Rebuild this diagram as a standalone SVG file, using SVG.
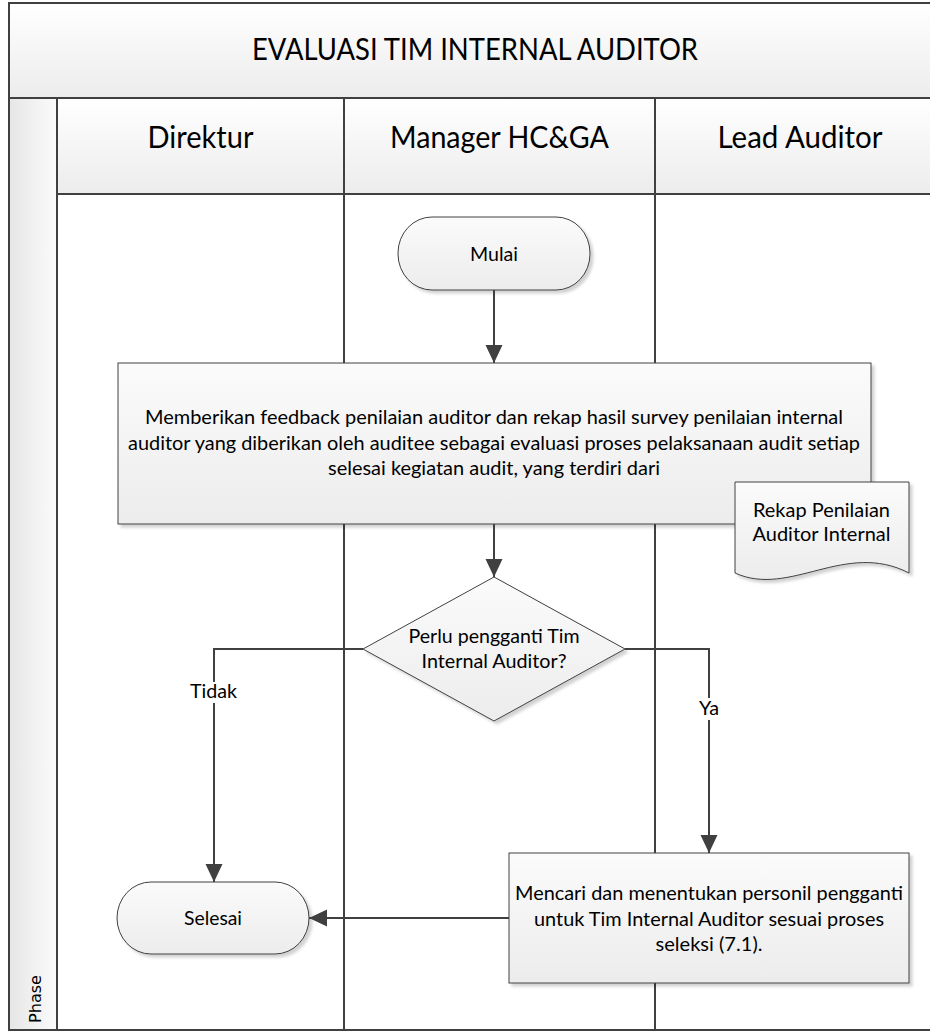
<svg xmlns="http://www.w3.org/2000/svg" width="930" height="1032" viewBox="0 0 930 1032">
<defs>
<style>
.t{font-family:Lato,"Open Sans","Liberation Sans",sans-serif;fill:#000;text-anchor:middle}
.big{font-size:30px}
.n{font-size:20px}
.sh{stroke:#404040;stroke-width:1;fill:url(#gShape)}
.ln{stroke:#404040;stroke-width:2;fill:none}
.cn{stroke:#404040;stroke-width:2;fill:none}
.arr{marker-end:url(#ah)}
</style>
<linearGradient id="gHead" x1="0" y1="0" x2="0" y2="1">
<stop offset="0" stop-color="#ffffff"/>
<stop offset="1" stop-color="#ececec"/>
</linearGradient>
<linearGradient id="gShape" x1="0" y1="0" x2="0" y2="1">
<stop offset="0" stop-color="#fbfbfb"/>
<stop offset="1" stop-color="#ececec"/>
</linearGradient>
<linearGradient id="gPhase" x1="0" y1="0" x2="1" y2="0">
<stop offset="0" stop-color="#e6e6e6"/>
<stop offset="1" stop-color="#fbfbfb"/>
</linearGradient>
<marker id="ah" markerUnits="userSpaceOnUse" markerWidth="18" markerHeight="18" refX="18" refY="8.5" orient="auto">
<path d="M0,0 L18,8.5 L0,17 z" fill="#404040"/>
</marker>
<filter id="shadow" x="-10%" y="-10%" width="125%" height="130%">
<feDropShadow dx="3" dy="3" stdDeviation="1.5" flood-color="#000" flood-opacity="0.18"/>
</filter>
</defs>

<g id="pool">
<rect x="9" y="3" width="940" height="1027" fill="#ffffff"/>
<rect x="9" y="3" width="940" height="95" fill="url(#gHead)"/>
<rect x="57" y="98" width="892" height="96" fill="url(#gHead)"/>
<rect x="9" y="98" width="48" height="932" fill="url(#gPhase)"/>
<line class="ln" x1="9" y1="98" x2="949" y2="98"/>
<line class="ln" x1="57" y1="194" x2="949" y2="194"/>
<line class="ln" x1="57" y1="98" x2="57" y2="1030"/>
<line class="ln" x1="344" y1="98" x2="344" y2="1030"/>
<line class="ln" x1="655" y1="98" x2="655" y2="1030"/>
<rect x="9" y="3" width="940" height="1027" class="ln"/>
<text class="t big" x="475" y="60" textLength="446" lengthAdjust="spacingAndGlyphs">EVALUASI TIM INTERNAL AUDITOR</text>
<text class="t big" x="200.5" y="148" textLength="106" lengthAdjust="spacingAndGlyphs">Direktur</text>
<text class="t big" x="499.5" y="148" textLength="219" lengthAdjust="spacingAndGlyphs">Manager HC&amp;GA</text>
<text class="t big" x="800" y="148" textLength="165" lengthAdjust="spacingAndGlyphs">Lead Auditor</text>
<text x="41" y="999" transform="rotate(-90 41 999)" style="font-family:'DejaVu Sans',Verdana,sans-serif;font-size:15px;text-anchor:middle;fill:#000" textLength="48" lengthAdjust="spacingAndGlyphs">Phase</text>
</g>

<g id="node-mulai">
<rect class="sh" x="398" y="217" width="192" height="73" rx="34" ry="36" filter="url(#shadow)"/>
<text class="t n" x="494" y="261" textLength="48" lengthAdjust="spacingAndGlyphs">Mulai</text>
</g>

<g id="node-feedback">
<rect class="sh" x="118" y="363" width="753" height="161" filter="url(#shadow)"/>
<text class="t n" x="494" y="424" textLength="698" lengthAdjust="spacingAndGlyphs">Memberikan feedback penilaian auditor dan rekap hasil survey penilaian internal</text>
<text class="t n" x="494" y="450" textLength="732" lengthAdjust="spacingAndGlyphs">auditor yang diberikan oleh auditee sebagai evaluasi proses pelaksanaan audit setiap</text>
<text class="t n" x="494" y="475" textLength="332" lengthAdjust="spacingAndGlyphs">selesai kegiatan audit, yang terdiri dari</text>
</g>

<g id="node-rekap">
<path class="sh" d="M735,482 L909,482 L909,573 C845,540 790,598 735,573 Z" filter="url(#shadow)"/>
<text class="t n" x="821.5" y="517" textLength="137" lengthAdjust="spacingAndGlyphs">Rekap Penilaian</text>
<text class="t n" x="821.5" y="541" textLength="138" lengthAdjust="spacingAndGlyphs">Auditor Internal</text>
</g>

<g id="node-decision">
<polygon class="sh" points="494,577 625,649 494,721 363,649" filter="url(#shadow)"/>
<text class="t n" x="494" y="643" textLength="171" lengthAdjust="spacingAndGlyphs">Perlu pengganti Tim</text>
<text class="t n" x="494" y="668" textLength="145" lengthAdjust="spacingAndGlyphs">Internal Auditor?</text>
</g>

<g id="node-mencari">
<rect class="sh" x="509" y="853" width="400" height="130" filter="url(#shadow)"/>
<text class="t n" x="709" y="900" textLength="388" lengthAdjust="spacingAndGlyphs">Mencari dan menentukan personil pengganti</text>
<text class="t n" x="709" y="925.5" textLength="350" lengthAdjust="spacingAndGlyphs">untuk Tim Internal Auditor sesuai proses</text>
<text class="t n" x="709" y="951" textLength="107" lengthAdjust="spacingAndGlyphs">seleksi (7.1).</text>
</g>

<g id="node-selesai">
<rect class="sh" x="117" y="882" width="192" height="72" rx="34" ry="36" filter="url(#shadow)"/>
<text class="t n" x="213" y="925" textLength="58" lengthAdjust="spacingAndGlyphs">Selesai</text>
</g>

<g id="connectors">
<line class="cn arr" x1="494" y1="290" x2="494" y2="363"/>
<line class="cn arr" x1="494" y1="524" x2="494" y2="577"/>
<polyline class="cn arr" points="363,649 214,649 214,882"/>
<polyline class="cn arr" points="625,649 709,649 709,853"/>
<line class="cn arr" x1="509" y1="918" x2="309" y2="918"/>
<rect x="189" y="682" width="50" height="21" fill="#ffffff"/>
<text class="t n" x="213.5" y="698" textLength="47" lengthAdjust="spacingAndGlyphs">Tidak</text>
<rect x="698" y="698" width="22" height="22" fill="#ffffff"/>
<text class="t n" x="709" y="715" textLength="20" lengthAdjust="spacingAndGlyphs">Ya</text>
</g>
</svg>
